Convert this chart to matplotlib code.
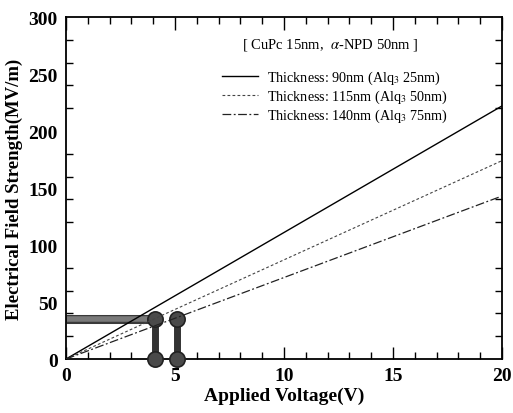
import numpy as np
import matplotlib
matplotlib.use("Agg")
import matplotlib.pyplot as plt
from matplotlib.ticker import MultipleLocator

# Data
voltage = [0, 20]
field_90 = [0, 222]
field_115 = [0, 174]
field_140 = [0, 143]
labels = ["Thickness: 90nm (Alq$_3$ 25nm)",
          "Thickness: 115nm (Alq$_3$ 50nm)",
          "Thickness: 140nm (Alq$_3$ 75nm)"]
marker_v = [4.1, 5.1]
marker_e = 35

plt.rcParams['font.family'] = ['Liberation Serif', 'DejaVu Serif']
plt.rcParams['mathtext.fontset'] = 'stix'

fig = plt.figure(figsize=(5.13, 4.14), dpi=100)
ax = fig.add_axes([0.1287, 0.1304, 0.8499, 0.8261])

# highlight bar
ax.plot([0, marker_v[0]], [marker_e, marker_e], color='#3a3a3a', lw=6.5, solid_capstyle='butt', zorder=1)
ax.plot([0, marker_v[0]], [marker_e, marker_e], color='#7a7a7a', lw=4, solid_capstyle='butt', zorder=1)
for v in marker_v:
    ax.plot([v, v], [0, marker_e], color='#333333', lw=5, zorder=2, solid_capstyle='butt')
    ax.plot([v, v], [0, marker_e], 'o', ms=11, color='#4a4a4a', mec='#222222', mew=1.2, zorder=3, clip_on=False)

ax.plot(voltage, field_90, '-', color='black', lw=1.0, label=labels[0], zorder=4)
ax.plot(voltage, field_115, color='#444444', lw=0.8, ls=(0, (2.5, 2)), label=labels[1], zorder=4)
ax.plot(voltage, field_140, color='#222222', lw=0.9, ls=(0, (7, 2, 1.5, 2)), label=labels[2], zorder=4)

ax.set_xlim(0, 20)
ax.set_ylim(0, 300)
ax.xaxis.set_major_locator(MultipleLocator(5))
ax.xaxis.set_minor_locator(MultipleLocator(1))
ax.yaxis.set_major_locator(MultipleLocator(50))
ax.yaxis.set_minor_locator(MultipleLocator(20))
ax.tick_params(which='both', direction='in', top=True, right=True)
ax.tick_params(axis='x', which='major', length=9, width=1)
ax.tick_params(axis='x', which='minor', length=5, width=1)
ax.tick_params(axis='y', which='major', length=0, pad=6)
ax.tick_params(axis='y', which='minor', length=5, width=1)
for lab in ax.get_xticklabels() + ax.get_yticklabels():
    lab.set_fontweight('bold')
    lab.set_fontsize(14)
ax.tick_params(axis='x', pad=6)
for s in ax.spines.values():
    s.set_linewidth(1.3)

ax.set_xlabel('Applied Voltage(V)', fontsize=14, fontweight='bold', labelpad=2)
ax.set_ylabel('Electrical Field Strength(MV/m)', fontsize=13.5, fontweight='bold', labelpad=4)

ax.text(0.404, 0.921, r'[ CuPc 15nm,  $\alpha$-NPD 50nm ]', transform=ax.transAxes, fontsize=10.5, va='center', ha='left')
leg = ax.legend(loc='upper left', bbox_to_anchor=(0.358, 0.85), frameon=False, fontsize=10.2,
                handlelength=2.5, handletextpad=0.7, labelspacing=0.12, borderaxespad=0,
                borderpad=0)

fig.savefig('out.png', dpi=100)
